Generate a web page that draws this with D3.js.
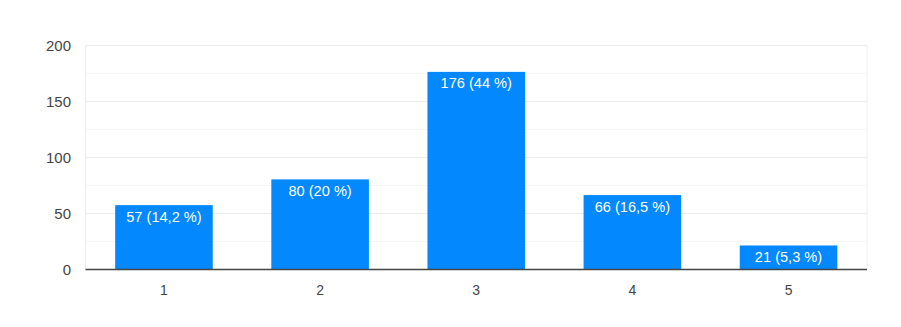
<!DOCTYPE html>
<meta charset="utf-8">
<html>
<head>
  <style>
    body { margin: 0; background: #fff; }
    text { font-family: "Liberation Sans", Arial, sans-serif; }
  </style>
</head>
<body>
  <script src="https://d3js.org/d3.v7.js"></script>
  <div id="chart"></div>
  <script>
    // data
    var categories = ["1", "2", "3", "4", "5"];
    var counts = [57, 80, 176, 66, 21];
    var labels = ["57 (14,2 %)", "80 (20 %)", "176 (44 %)", "66 (16,5 %)", "21 (5,3 %)"];
    var yTicks = [0, 50, 100, 150, 200];
    var minorTicks = [25, 75, 125, 175];

    var margin = { top: 45, right: 34, bottom: 58, left: 85.5 },
      width = 901 - margin.left - margin.right,
      height = 327 - margin.top - margin.bottom;

    var svg = d3.select("#chart")
      .append("svg")
      .attr("width", 901)
      .attr("height", 327)
      .append("g")
      .attr("transform", "translate(" + margin.left + "," + margin.top + ")");

    var x = d3.scaleBand()
      .domain(categories)
      .range([0, width])
      .paddingInner(0.375)
      .paddingOuter(0.19);

    var y = d3.scaleLinear()
      .domain([0, 200])
      .range([height, 0]);

    // minor gridlines
    svg.selectAll(".minor")
      .data(minorTicks)
      .enter().append("line")
      .attr("x1", 0).attr("x2", width)
      .attr("y1", d => Math.round(y(d)) + 0.5)
      .attr("y2", d => Math.round(y(d)) + 0.5)
      .attr("stroke", "#f6f6f6");

    // major gridlines
    svg.selectAll(".major")
      .data(yTicks.slice(1))
      .enter().append("line")
      .attr("x1", 0).attr("x2", width)
      .attr("y1", d => Math.round(y(d)) + 0.5)
      .attr("y2", d => Math.round(y(d)) + 0.5)
      .attr("stroke", "#ebebeb");

    // side borders
    svg.append("line")
      .attr("x1", 0).attr("x2", 0)
      .attr("y1", 0).attr("y2", height)
      .attr("stroke", "#ebebeb");
    svg.append("line")
      .attr("x1", width).attr("x2", width)
      .attr("y1", 0).attr("y2", height)
      .attr("stroke", "#f0f0f0");

    // y tick labels
    svg.selectAll(".ylab")
      .data(yTicks)
      .enter().append("text")
      .attr("x", -14.5)
      .attr("y", d => y(d) + 5.5)
      .attr("text-anchor", "end")
      .attr("font-size", 15)
      .attr("fill", "#444")
      .text(d => d);

    // bars
    svg.selectAll("rect")
      .data(counts)
      .enter().append("rect")
      .attr("x", (d, i) => x(categories[i]))
      .attr("y", d => y(d))
      .attr("width", x.bandwidth())
      .attr("height", d => height - y(d))
      .attr("fill", "#0389fd");

    // bar labels
    svg.selectAll(".blab")
      .data(counts)
      .enter().append("text")
      .attr("x", (d, i) => x(categories[i]) + x.bandwidth() / 2)
      .attr("y", d => y(d) + 16.5)
      .attr("text-anchor", "middle")
      .attr("font-size", 14.6)
      .attr("fill", "#fff")
      .text((d, i) => labels[i]);

    // baseline
    svg.append("line")
      .attr("x1", 0).attr("x2", width)
      .attr("y1", height + 0.5).attr("y2", height + 0.5)
      .attr("stroke", "#444")
      .attr("stroke-width", 1.4);

    // x tick labels
    svg.selectAll(".xlab")
      .data(categories)
      .enter().append("text")
      .attr("x", d => x(d) + x.bandwidth() / 2)
      .attr("y", height + 26)
      .attr("text-anchor", "middle")
      .attr("font-size", 14)
      .attr("fill", "#444")
      .text(d => d);
  </script>
</body>
</html>
